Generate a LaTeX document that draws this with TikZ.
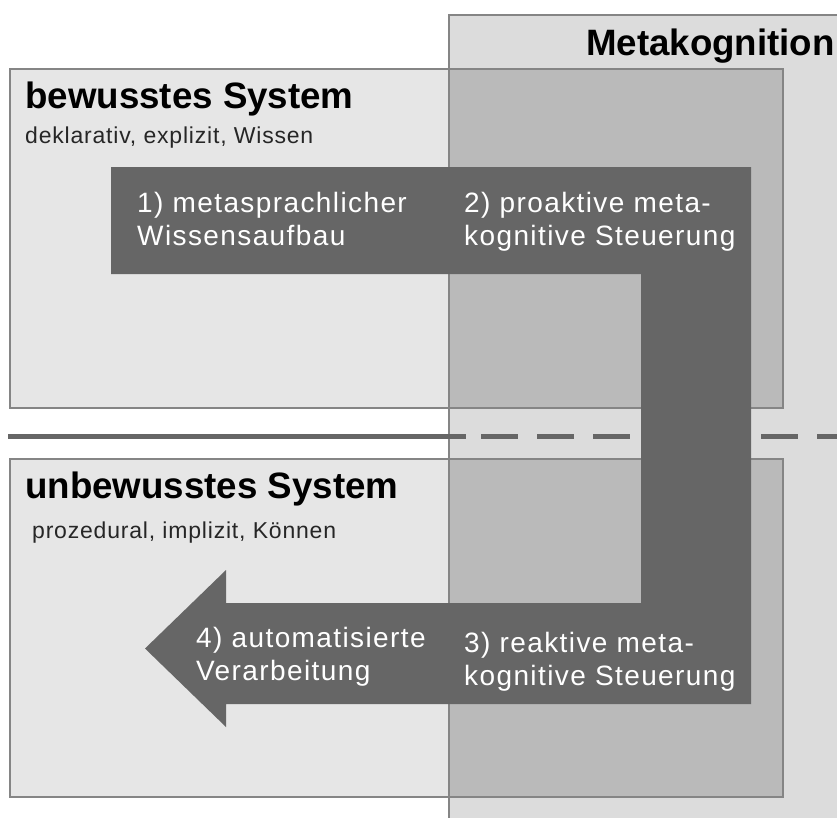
\documentclass[tikz,border=0pt]{standalone}
\usepackage{fontspec}
\setmainfont{Liberation Sans}
\newfontfamily\arrowfont[LetterSpace=5]{Liberation Sans}
\newfontfamily\smallfont[LetterSpace=3.5]{Liberation Sans}
\definecolor{metabg}{HTML}{DCDCDC}
\definecolor{sysbg}{HTML}{E6E6E6}
\definecolor{overlap}{HTML}{BABABA}
\definecolor{arrowgray}{HTML}{666666}
\definecolor{edgegray}{HTML}{858585}
\tikzset{
  panel/.style={fill=sysbg, draw=edgegray, line width=1.2pt},
  title/.style={font=\bfseries\fontsize{36.7}{42}\selectfont, inner sep=0pt, anchor=base west},
  subtitle/.style={font=\smallfont\fontsize{23}{27}\selectfont, text=black!85, inner sep=0pt, anchor=base west},
  steptext/.style={font=\arrowfont\fontsize{28}{32.5}\selectfont, text=white, align=left, inner sep=0pt, anchor=base west},
}
\begin{document}
\begin{tikzpicture}[x=1pt,y=-1pt]
\useasboundingbox (0,0) rectangle (837,817);
% Metakognition column
\fill[metabg] (449,15) rectangle (900,900);
\draw[edgegray, line width=1.2pt] (449,900) -- (449,15) -- (900,15);
\node[title, anchor=base east] (meta) at (835,55) {Metakognition};
% system panels
\draw[panel] (10,69) rectangle (783,408);
\draw[panel] (10,459) rectangle (783,797);
\fill[overlap] (449,69) rectangle (783,408);
\fill[overlap] (449,459) rectangle (783,797);
\draw[edgegray, line width=1.2pt] (449,69) -- (783,69) -- (783,408) -- (449,408);
\draw[edgegray, line width=1.2pt] (449,459) -- (783,459) -- (783,797) -- (449,797);
\draw[edgegray, line width=1.2pt] (449,15) -- (449,900);
% separator line
\coordinate (sepL) at (8,436);
\coordinate (sepM) at (466,436);
\coordinate (sepD) at (481,436);
\coordinate (sepR) at (860,436);
\draw[arrowgray, line width=5pt] (sepL) -- (sepM);
\draw[arrowgray, line width=5pt, dash pattern=on 37pt off 19pt] (sepD) -- (sepR);
% labels
\node[title] (bew) at (25,108) {bewusstes System};
\node[subtitle] (bewsub) at (25,143) {deklarativ, explizit, Wissen};
\node[title] (unbew) at (25,498) {unbewusstes System};
\node[subtitle] (unbewsub) at (32,538) {prozedural, implizit, Können};
% process arrow
\fill[arrowgray] (111,167) -- (751,167) -- (751,704) -- (226,704) -- (226,727)
  -- (145,648.5) -- (226,570) -- (226,603) -- (641,603) -- (641,274) -- (111,274) -- cycle;
\node[steptext] (s1) at (137,245) {1) metasprachlicher\\Wissensaufbau};
\node[steptext] (s2) at (464,245) {2) proaktive meta-\\kognitive Steuerung};
\node[steptext] (s3) at (464,685) {3) reaktive meta-\\kognitive Steuerung};
\node[steptext] (s4) at (196,680) {4) automatisierte\\Verarbeitung};
\end{tikzpicture}
\end{document}
